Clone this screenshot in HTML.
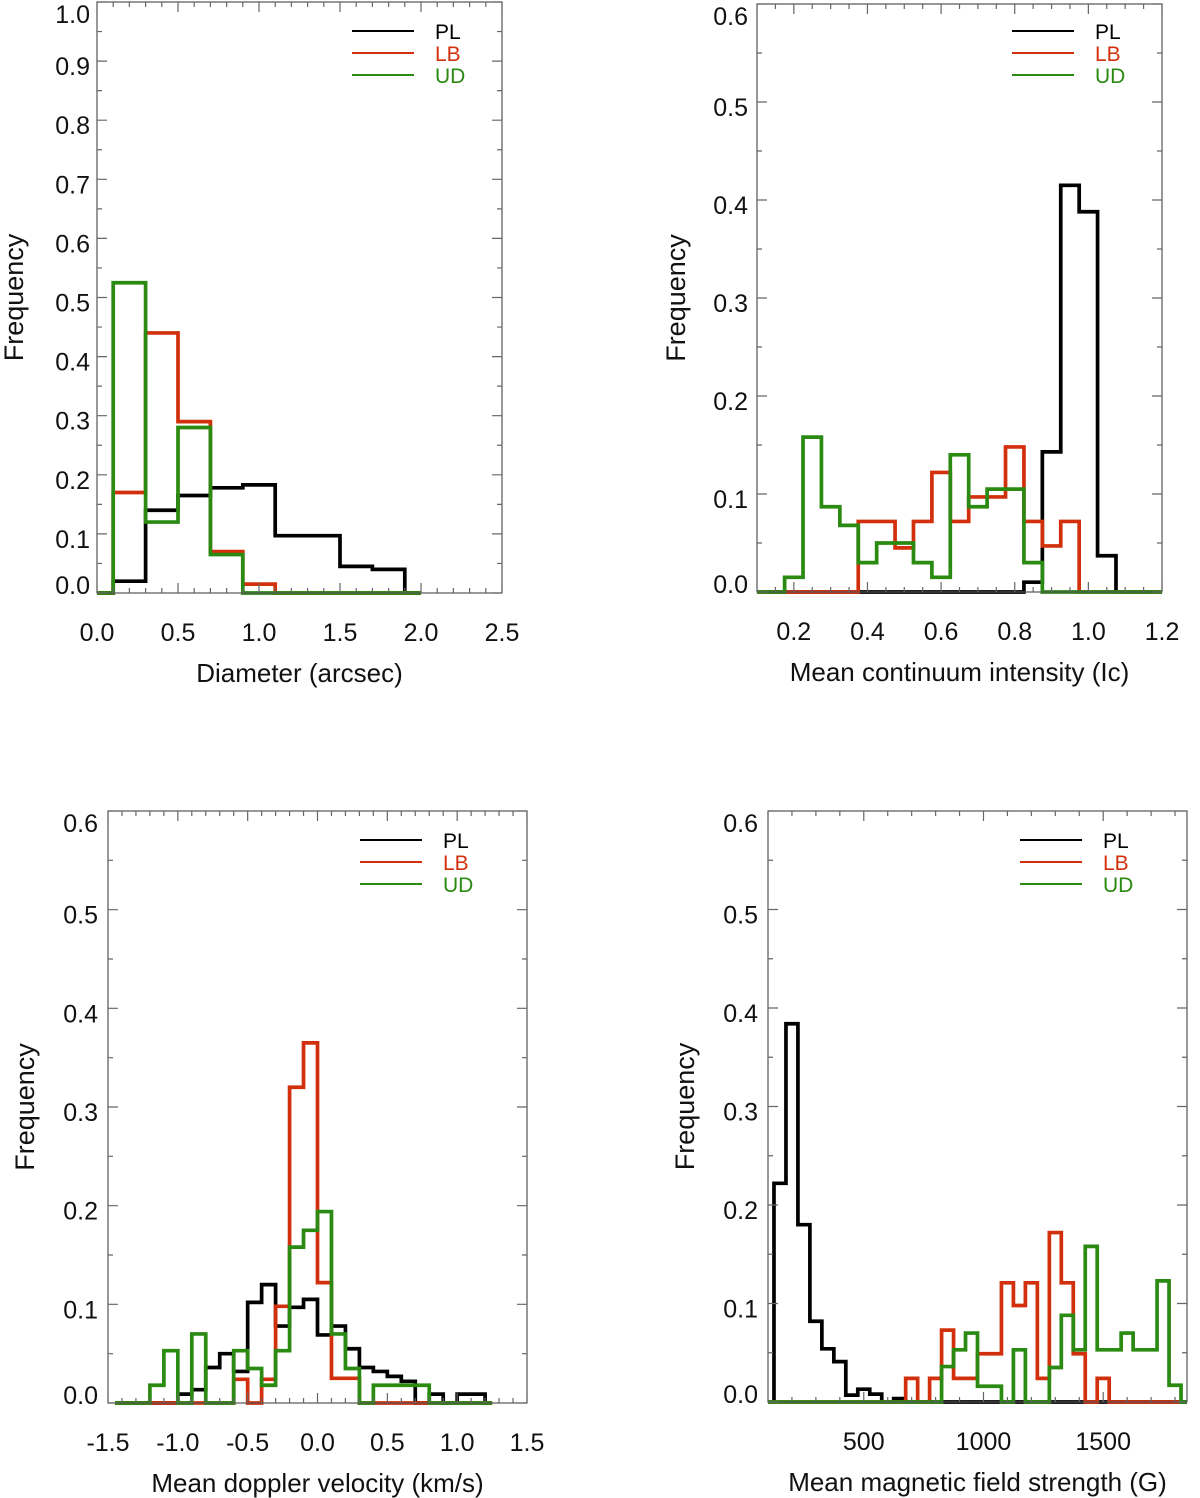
<!DOCTYPE html>
<html><head><meta charset="utf-8"><style>
html,body{margin:0;padding:0;background:#fff;}
svg{display:block;font-family:"Liberation Sans",Arial,sans-serif;}
</style></head><body>
<svg id="fig" width="1200" height="1498" viewBox="0 0 1200 1498" xmlns="http://www.w3.org/2000/svg"></svg>
<script>
// ---- Panel 1: Diameter ----
const p1Centers=[0,0.2,0.4,0.6,0.8,1.0,1.2,1.4,1.6,1.8,2.0];
const p1PL=[0,0.02,0.14,0.165,0.178,0.183,0.097,0.097,0.045,0.04,0];
const p1LB=[0,0.17,0.44,0.29,0.07,0.015,0,0,0,0,0];
const p1UD=[0,0.525,0.12,0.28,0.065,0,0,0,0,0,0];
const p1XTicks=["0.0","0.5","1.0","1.5","2.0","2.5"];
const p1YTicks=["0.0","0.1","0.2","0.3","0.4","0.5","0.6","0.7","0.8","0.9","1.0"];
// ---- Panel 2: Continuum intensity ----
const p2Centers=[0.1,0.15,0.2,0.25,0.3,0.35,0.4,0.45,0.5,0.55,0.6,0.65,0.7,0.75,0.8,0.85,0.9,0.95,1.0,1.05,1.1,1.15,1.2];
const p2PL=[0,0,0,0,0,0,0,0,0,0,0,0,0,0,0,0.01,0.143,0.415,0.388,0.037,0,0,0];
const p2LB=[0,0,0,0,0,0,0.072,0.072,0.045,0.072,0.122,0.072,0.097,0.097,0.148,0.072,0.047,0.072,0,0,0,0,0];
const p2UD=[0,0,0.015,0.158,0.087,0.068,0.03,0.05,0.05,0.03,0.015,0.14,0.087,0.105,0.105,0.03,0,0,0,0,0,0,0];
const p2XTicks=["0.2","0.4","0.6","0.8","1.0","1.2"];
const p2YTicks=["0.0","0.1","0.2","0.3","0.4","0.5","0.6"];
// ---- Panel 3: Doppler velocity ----
const p3Centers=[-1.45,-1.35,-1.25,-1.15,-1.05,-0.95,-0.85,-0.75,-0.65,-0.55,-0.45,-0.35,-0.25,-0.15,-0.05,0.05,0.15,0.25,0.35,0.45,0.55,0.65,0.75,0.85,0.95,1.05,1.15,1.25];
const p3PL=[0,0,0,0,0,0.009,0.0135,0.036,0.05,0.032,0.102,0.12,0.078,0.097,0.105,0.069,0.078,0.055,0.036,0.032,0.027,0.022,0,0.009,0,0.009,0.009,0];
const p3LB=[0,0,0,0,0,0,0,0,0,0.024,0,0.024,0.098,0.32,0.365,0.122,0.025,0.025,0,0,0,0,0,0,0,0,0,0];
const p3UD=[0,0,0,0.018,0.053,0,0.07,0,0,0.053,0.035,0.018,0.053,0.158,0.175,0.194,0.07,0.035,0,0.018,0.018,0.018,0.018,0,0,0,0,0];
const p3XTicks=["-1.5","-1.0","-0.5","0.0","0.5","1.0","1.5"];
const p3YTicks=["0.0","0.1","0.2","0.3","0.4","0.5","0.6"];
// ---- Panel 4: Magnetic field ----
const p4Centers=[100,150,200,250,300,350,400,450,500,550,600,650,700,750,800,850,900,950,1000,1050,1100,1150,1200,1250,1300,1350,1400,1450,1500,1550,1600,1650,1700,1750,1800,1850];
const p4PL=[0,0.222,0.384,0.18,0.082,0.054,0.041,0.007,0.013,0.008,0,0.0034,0,0,0,0,0,0,0,0,0,0,0,0,0,0,0,0,0,0,0,0,0,0,0,0];
const p4LB=[0,0,0,0,0,0,0,0,0,0,0,0,0.024,0,0.024,0.073,0.024,0.024,0.049,0.049,0.121,0.098,0.121,0.024,0.172,0.121,0.049,0,0.024,0,0,0,0,0,0];
const p4UD=[0,0,0,0,0,0,0,0,0,0,0,0,0,0,0,0.036,0.053,0.07,0.016,0.016,0,0.053,0,0,0.035,0.088,0.053,0.158,0.053,0.053,0.07,0.053,0.053,0.123,0.017,0];
const p4XTicks=["500","1000","1500"];
const p4YTicks=["0.0","0.1","0.2","0.3","0.4","0.5","0.6"];
const seriesNames=["PL","LB","UD"];

const NS="http://www.w3.org/2000/svg";
const svg=document.getElementById('fig');
const COLORS={PL:"#000000",LB:"#d2300c",UD:"#2a8a12"};
function mk(tag,attrs,parent){const e=document.createElementNS(NS,tag);for(const k in attrs)e.setAttribute(k,attrs[k]);(parent||svg).appendChild(e);return e;}

function panel(cfg){
  const g=mk('g',{});
  
  
  const sx=v=>cfg.x0+(v-cfg.xmin)/(cfg.xmax-cfg.xmin)*(cfg.x1-cfg.x0);
  const sy=v=>cfg.y0-(v-cfg.ymin)/(cfg.ymax-cfg.ymin)*(cfg.y0-cfg.y1);
  const series=[cfg.pl,cfg.lb,cfg.ud];
  series.forEach((vals,si)=>{
    const c=cfg.centers, h=(c[1]-c[0])/2;
    let d="M"+sx(c[0])+","+sy(vals[0]);
    for(let i=0;i<c.length;i++){
      if(i>0) d+=" L"+sx(c[i]-h)+","+sy(vals[i]);
      const xe=(i===c.length-1)?c[i]:c[i]+h;
      d+=" L"+sx(xe)+","+sy(vals[i]);
    }
    const p=mk('path',{d:d,fill:"none",stroke:COLORS[seriesNames[si]],"stroke-width":3.7,"stroke-linejoin":"miter"},g);
    
    
  });
  const fr=mk('rect',{x:cfg.x0,y:cfg.y1,width:cfg.x1-cfg.x0,height:cfg.y0-cfg.y1,fill:"none",stroke:"#555","stroke-width":1.2},g);
  
  
  let tk="";
  for(let v=cfg.xminor0;v<=cfg.xmax+1e-9;v+=cfg.xminor){
    const X=sx(v); const isMaj=Math.abs(Math.round((v-cfg.xmaj0)/cfg.xmaj)*cfg.xmaj-(v-cfg.xmaj0))<1e-6;
    const L=isMaj?10:5;
    tk+=`M${X},${cfg.y0}v${-L}M${X},${cfg.y1}v${L}`;
  }
  for(let v=cfg.ymin;v<=cfg.ymax+1e-9;v+=cfg.yminor){
    const Y=sy(v); const isMaj=Math.abs(Math.round(v/cfg.ymaj)*cfg.ymaj-v)<1e-6;
    const L=isMaj?10:5;
    tk+=`M${cfg.x0},${Y}h${L}M${cfg.x1},${Y}h${-L}`;
  }
  const tp=mk('path',{d:tk,stroke:"#666","stroke-width":1.2,fill:"none"},g);
  
  
  cfg.xTicks.forEach(t=>{
    const e=mk('text',{x:sx(parseFloat(t)),y:cfg.y0+48,"text-anchor":"middle","font-size":25,fill:"#111"},g);
    e.textContent=t;
    
    
  });
  const nY=cfg.yTicks.length;
  cfg.yTicks.forEach((t,i)=>{
    const v=parseFloat(t);
    let Y=sy(v)+5;
    if(i===0) Y=sy(v)-8;
    if(i===nY-1) Y=sy(v)+12;
    const e=mk('text',{x:cfg.ylabX,y:Y+9,"text-anchor":"end","font-size":25,fill:"#111"},g);
    e.textContent=t;
    
    
  });
  const xt=mk('text',{x:(cfg.x0+cfg.x1)/2,y:cfg.y0+89,"text-anchor":"middle","font-size":26,fill:"#111"},g);
  xt.textContent=cfg.xtitle;
  
  
  const yc=(cfg.y0+cfg.y1)/2;
  const yt=mk('text',{x:cfg.ytitleX,y:yc,"text-anchor":"middle","font-size":27,fill:"#111",transform:`rotate(-90 ${cfg.ytitleX} ${yc})`},g);
  yt.textContent="Frequency";
  
  
  seriesNames.forEach((n,i)=>{
    const Y=cfg.legY+i*22;
    const ln=mk('line',{x1:cfg.legX,x2:cfg.legX+62,y1:Y,y2:Y,stroke:COLORS[n],"stroke-width":2},g);
    
    
    const tx=mk('text',{x:cfg.legX+83,y:Y+8,"font-size":21,fill:COLORS[n]},g);
    tx.textContent=n;
    
    
  });
}
panel({name:"panel-diameter",x0:97,x1:502,y0:593,y1:2,xmin:0,xmax:2.5,ymin:0,ymax:1.0,
  xminor0:0,xminor:0.1,xmaj0:0,xmaj:0.5,yminor:0.05,ymaj:0.1,
  centers:p1Centers,pl:p1PL,lb:p1LB,ud:p1UD,xTicks:p1XTicks,yTicks:p1YTicks,
  ylabX:90,ytitleX:23,xtitle:"Diameter (arcsec)",legX:352,legY:31});
panel({name:"panel-continuum-intensity",x0:757,x1:1162,y0:592,y1:4,xmin:0.1,xmax:1.2,ymin:0,ymax:0.6,
  xminor0:0.1,xminor:0.05,xmaj0:0.2,xmaj:0.2,yminor:0.05,ymaj:0.1,
  centers:p2Centers,pl:p2PL,lb:p2LB,ud:p2UD,xTicks:p2XTicks,yTicks:p2YTicks,
  ylabX:748,ytitleX:685,xtitle:"Mean continuum intensity (Ic)",legX:1012,legY:31});
panel({name:"panel-doppler-velocity",x0:108,x1:527,y0:1403,y1:811,xmin:-1.5,xmax:1.5,ymin:0,ymax:0.6,
  xminor0:-1.5,xminor:0.1,xmaj0:-1.5,xmaj:0.5,yminor:0.05,ymaj:0.1,
  centers:p3Centers,pl:p3PL,lb:p3LB,ud:p3UD,xTicks:p3XTicks,yTicks:p3YTicks,
  ylabX:98,ytitleX:34,xtitle:"Mean doppler velocity (km/s)",legX:360,legY:840});
panel({name:"panel-magnetic-field",x0:768,x1:1187,y0:1402,y1:811,xmin:100,xmax:1850,ymin:0,ymax:0.6,
  xminor0:100,xminor:100,xmaj0:500,xmaj:500,yminor:0.05,ymaj:0.1,
  centers:p4Centers,pl:p4PL,lb:p4LB,ud:p4UD,xTicks:p4XTicks,yTicks:p4YTicks,
  ylabX:758,ytitleX:694,xtitle:"Mean magnetic field strength (G)",legX:1020,legY:840});
</script>
</body></html>
